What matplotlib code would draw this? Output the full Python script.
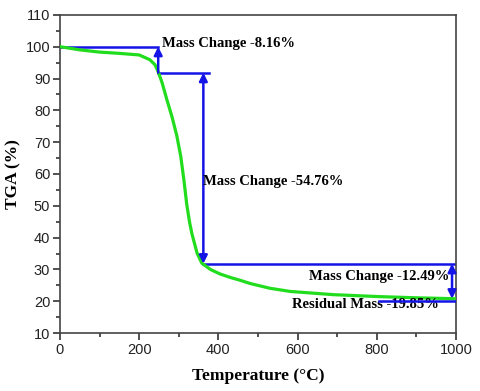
import numpy as np
import matplotlib.pyplot as plt
from matplotlib.ticker import MultipleLocator

# TGA curve
temp = [0, 50, 100, 150, 200, 227, 240, 248, 258, 270, 283, 295, 305, 313, 320, 327, 333,
        346, 358, 380, 404, 430, 455, 480, 530, 581, 689, 800, 900, 1000]
mass = [100, 99.0, 98.3, 97.9, 97.4, 95.9, 94.3, 92.1, 88.6, 83.3, 77.9, 72.0, 65.5, 58,
        50.5, 45, 41.3, 35.2, 32.0, 30.0, 28.6, 27.5, 26.6, 25.6, 24.1, 23.1, 22.1, 21.5, 21.1, 20.8]

# step levels and annotations
step_x = [0, 248, 248, 375, 362, 1000, 990, 805, 1000]
levels = [100, 91.84, 31.8, 20.0]
labels = ['Mass Change -8.16%', 'Mass Change -54.76%', 'Mass Change -12.49%', 'Residual Mass -19.85%']
label_pos = [(258, 100.9), (360, 57.5), (630, 27.9), (585, 19.1)]

blue = '#1414e6'
green = '#22dd1e'
serif = ['Liberation Serif', 'DejaVu Serif']

fig = plt.figure(figsize=(4.8, 3.91), dpi=100)
ax = fig.add_axes([0.125, 0.148, 0.825, 0.814])

ax.plot(temp, mass, color=green, lw=2.3, zorder=3, solid_capstyle='round', solid_joinstyle='round')

lw = 1.8
# horizontal lines
ax.plot([step_x[0], step_x[1]], [levels[0], levels[0]], color=blue, lw=lw)
ax.plot([step_x[2], step_x[3]], [levels[1], levels[1]], color=blue, lw=lw)
ax.plot([step_x[4], step_x[5]], [levels[2], levels[2]], color=blue, lw=lw)
ax.plot([step_x[7], step_x[8]], [levels[3], levels[3]], color=blue, lw=lw, zorder=5)

# double arrows
arr = dict(arrowstyle='<|-|>', color=blue, lw=lw, mutation_scale=12, shrinkA=0, shrinkB=0)
ax.annotate('', xy=(step_x[1], levels[0]), xytext=(step_x[1], levels[1]), arrowprops=dict(arr, arrowstyle='-|>'))
ax.annotate('', xy=(step_x[4], levels[1]), xytext=(step_x[4], levels[2]), arrowprops=arr)
ax.annotate('', xy=(step_x[6], levels[2]), xytext=(step_x[6], levels[3] + 0.8), arrowprops=arr)

for txt, (x, y) in zip(labels, label_pos):
    ax.text(x, y, txt, family=serif, fontweight='bold', fontsize=10.5, va='center', ha='left', zorder=4)

ax.set_xlim(0, 1000)
ax.set_ylim(10, 110)
ax.xaxis.set_major_locator(MultipleLocator(200))
ax.xaxis.set_minor_locator(MultipleLocator(100))
ax.yaxis.set_major_locator(MultipleLocator(10))
ax.yaxis.set_minor_locator(MultipleLocator(5))
ax.tick_params(which='both', direction='out', top=False, right=False, colors='#333333',
               labelsize=10.5, width=1.2, pad=2)
ax.tick_params(which='major', length=5)
ax.tick_params(which='minor', length=3)
for lab in ax.get_xticklabels() + ax.get_yticklabels():
    lab.set_family(['Liberation Sans', 'DejaVu Sans'])
    lab.set_color('#222222')
for s in ax.spines.values():
    s.set_color('#444444')
    s.set_linewidth(1.2)

ax.set_xlabel('Temperature (°C)', family=serif, fontweight='bold', fontsize=12.5, labelpad=8)
ax.set_ylabel('TGA (%)', family=serif, fontweight='bold', fontsize=12.5, labelpad=3)

fig.savefig('out.png', dpi=100)
